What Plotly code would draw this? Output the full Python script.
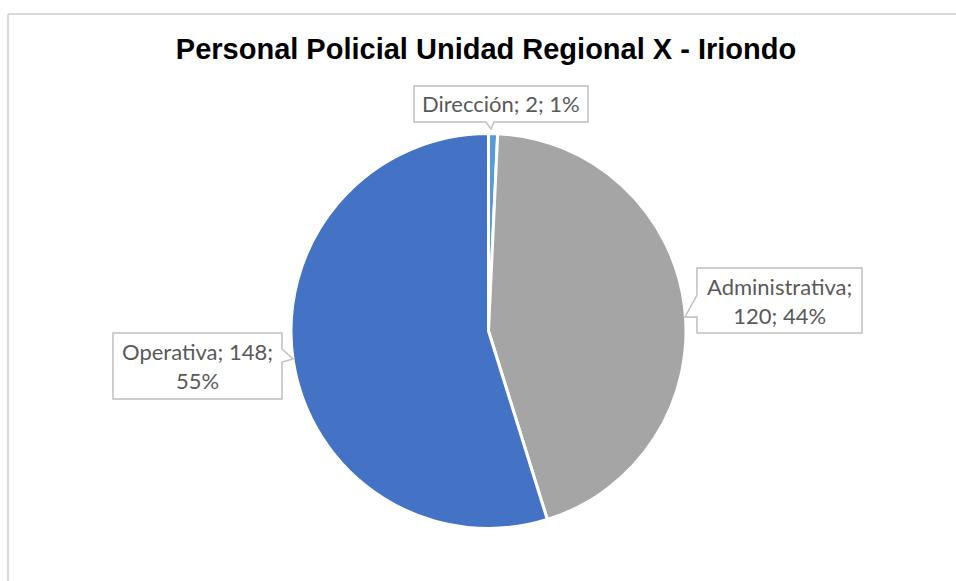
import plotly.graph_objects as go

# ---- data ----
categories = ["Dirección", "Administrativa", "Operativa"]
values = [2, 120, 148]
colors = ["#5B9BD5", "#A5A5A5", "#4472C4"]
title_text = "Personal Policial Unidad Regional X - Iriondo"

# ---- layout helpers (pixel -> paper, margins are zero) ----
W, H = 956, 581


def px(x):
    return x / W


def py(y):
    return 1 - y / H


total = sum(values)
pcts = [round(v / total * 100) for v in values]

# where each data label breaks into a second line (number of parts on line 1)
line_breaks = [3, 1, 2]
label_centers = [(501, 104), (779.5, 300.5), (197.5, 366)]
callouts = [
    [(414, 86), (588, 86), (588, 122), (494, 122), (491, 129), (486, 122), (414, 122)],
    [(697, 268), (862, 268), (862, 333), (697, 333), (697, 317), (685, 317), (697, 295)],
    [(113, 333), (282, 333), (282, 349), (293, 359), (282, 362), (282, 399), (113, 399)],
]

fig = go.Figure()
fig.add_trace(go.Pie(
    labels=categories,
    values=values,
    sort=False,
    direction="clockwise",
    rotation=0,
    marker=dict(colors=colors, line=dict(color="white", width=3)),
    textinfo="none",
    hoverinfo="skip",
    showlegend=False,
    domain=dict(x=[px(291), px(686)], y=[py(528.5), py(133.5)]),
))

border = dict(color="#d9d9d9", width=2)
shapes = [
    dict(type="line", xref="paper", yref="paper", x0=px(8), y0=py(14), x1=px(W), y1=py(14),
         line=border, layer="below"),
    dict(type="line", xref="paper", yref="paper", x0=px(8), y0=py(14), x1=px(8), y1=py(H),
         line=border, layer="below"),
]
annotations = []
for cat, v, p, k, (cx, cy), pts in zip(categories, values, pcts, line_breaks, label_centers, callouts):
    parts = [f"{cat};", f"{v};", f"{p}%"]
    text = " ".join(parts[:k])
    if k < len(parts):
        text += "<br>" + " ".join(parts[k:])
    path = "M " + " L ".join(f"{px(x):.5f},{py(y):.5f}" for x, y in pts) + " Z"
    shapes.append(dict(type="path", xref="paper", yref="paper", path=path,
                       line=dict(color="#bfbfbf", width=1.5), fillcolor="white", layer="above"))
    annotations.append(dict(x=px(cx), y=py(cy), xref="paper", yref="paper",
                            text=text, showarrow=False, xanchor="center", yanchor="middle",
                            align="center", font=dict(family="Lato", size=22, color="#595959")))

fig.update_layout(
    width=W, height=H,
    margin=dict(l=0, r=0, t=0, b=0),
    paper_bgcolor="white",
    plot_bgcolor="white",
    title=dict(text=f"<b>{title_text}</b>", x=px(486), xanchor="center",
               y=py(49), yanchor="middle", xref="paper", yref="paper",
               font=dict(family="Liberation Sans, Arial", size=29, color="black")),
    shapes=shapes,
    annotations=annotations,
)

fig.write_html("out.html", config={"displayModeBar": False},
               post_script="document.body.style.margin='0';document.body.style.overflow='hidden';")
